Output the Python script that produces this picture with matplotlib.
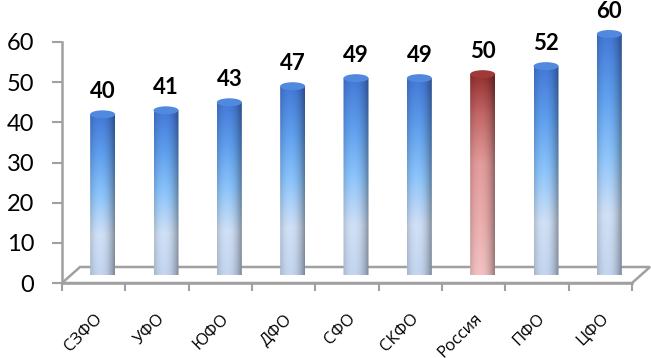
import numpy as np
import matplotlib.pyplot as plt
from matplotlib.patches import Ellipse, PathPatch, Polygon
from matplotlib.path import Path
from matplotlib.colors import LinearSegmentedColormap
import matplotlib.transforms as mtransforms

regions = ["СЗФО", "УФО", "ЮФО", "ДФО", "СФО", "СКФО", "Россия", "ПФО", "ЦФО"]
values = [40, 41, 43, 47, 49, 49, 50, 52, 60]
highlight = "Россия"
yticks = [0, 10, 20, 30, 40, 50, 60]

W, H = 651, 358
fig = plt.figure(figsize=(W / 100, H / 100), dpi=100)
ax = fig.add_axes([62 / W, (H - 283) / H, 570 / W, 241 / H])
ax.set_xlim(0, len(regions))
ax.set_ylim(0, 60)

grey = "#a0a0a0"
for s in ["top", "right"]:
    ax.spines[s].set_visible(False)
for s in ["left", "bottom"]:
    ax.spines[s].set_color(grey)
    ax.spines[s].set_linewidth(1.8)

# floor (3d depth, in pixels)
depth_x, depth_y = 18, 16
px_x = 570 / len(regions)
px_y = 241 / 60
dxd, dyd = depth_x / px_x, depth_y / px_y
n = len(regions)
floor = Polygon([(0, 0), (n, 0), (n + dxd, dyd), (dxd, dyd)], closed=True,
                facecolor="white", edgecolor=grey, linewidth=1.8,
                clip_on=False, zorder=1)
ax.add_patch(floor)

# bar offset = mid of depth
off = mtransforms.ScaledTranslation(9 / 100, 8 / 100, fig.dpi_scale_trans)
trans = ax.transData + off

blue_cm = LinearSegmentedColormap.from_list("b", [
    (0.0, "#c3d5ef"), (0.25, "#d0e0f6"), (0.5, "#8cc4fb"),
    (0.75, "#5f9fee"), (1.0, "#4479d8")])
red_cm = LinearSegmentedColormap.from_list("r", [
    (0.0, "#f2c2c2"), (0.3, "#eaabab"), (0.55, "#e49c9c"),
    (0.8, "#c46868"), (1.0, "#963030")])

bw = 25 / px_x
cap_h = 8 / px_y
nx, ny = 60, 200
xs = np.linspace(-1, 1, nx)
shade = 1 - 0.25 * np.abs(xs + 0.2) ** 2.2
shade = np.clip(shade, 0, 1)
ts = np.linspace(1, 0, ny)

for i, (name, v) in enumerate(zip(regions, values)):
    cx = i + 0.5
    cm = red_cm if name == highlight else blue_cm
    cols = cm(ts)[:, :3]
    img = np.clip(cols[:, None, :] * shade[None, :, None], 0, 1)
    x0, x1 = cx - bw / 2, cx + bw / 2
    im = ax.imshow(img, extent=[x0, x1, 0, v], aspect="auto",
                   transform=trans, interpolation="bilinear", zorder=3)
    # clip path: rectangle with rounded bottom
    theta = np.linspace(np.pi, 2 * np.pi, 30)
    bottom = [(cx + bw / 2 * np.cos(t), cap_h / 2 * np.sin(t)) for t in theta]
    verts = [(x0, v)] + bottom + [(x1, v), (x0, v)]
    codes = [Path.MOVETO] + [Path.LINETO] * (len(verts) - 2) + [Path.CLOSEPOLY]
    clip = PathPatch(Path(verts, codes), transform=trans, facecolor="none",
                     edgecolor="none", clip_on=False)
    ax.add_patch(clip)
    im.set_clip_path(clip)
    im.set_clip_box(fig.bbox)
    top_col = "#9e3a3a" if name == highlight else "#5189df"
    cap = Ellipse((cx, v), bw, cap_h, transform=trans, facecolor=top_col,
                  edgecolor="none", zorder=4, clip_on=False)
    ax.add_patch(cap)
    ax.text(cx, v + 3.0, str(v), transform=trans, ha="center", va="bottom",
            fontsize=16, fontweight="bold", family="Lato", color="black",
            zorder=5, clip_on=False)

ax.set_yticks(yticks)
ax.set_yticklabels([str(t) for t in yticks], fontsize=17, family="Lato")
ax.tick_params(axis="y", direction="out", length=7, width=1.5, color=grey,
               pad=13)

ax.set_xticks(np.arange(n + 1), minor=True)
ax.set_xticks(np.arange(n) + 0.5)
ax.tick_params(axis="x", which="minor", direction="out", length=6, width=1.5,
               color=grey)
ax.tick_params(axis="x", which="major", length=0, pad=24)
ax.set_xticklabels(regions, rotation=45, ha="right", va="center",
                   rotation_mode="anchor", fontsize=12, family="Open Sans")
lab_off = mtransforms.ScaledTranslation(6 / 100, 0, fig.dpi_scale_trans)
for lab in ax.get_xticklabels():
    lab.set_transform(lab.get_transform() + lab_off)

fig.savefig("out.png", dpi=100)
